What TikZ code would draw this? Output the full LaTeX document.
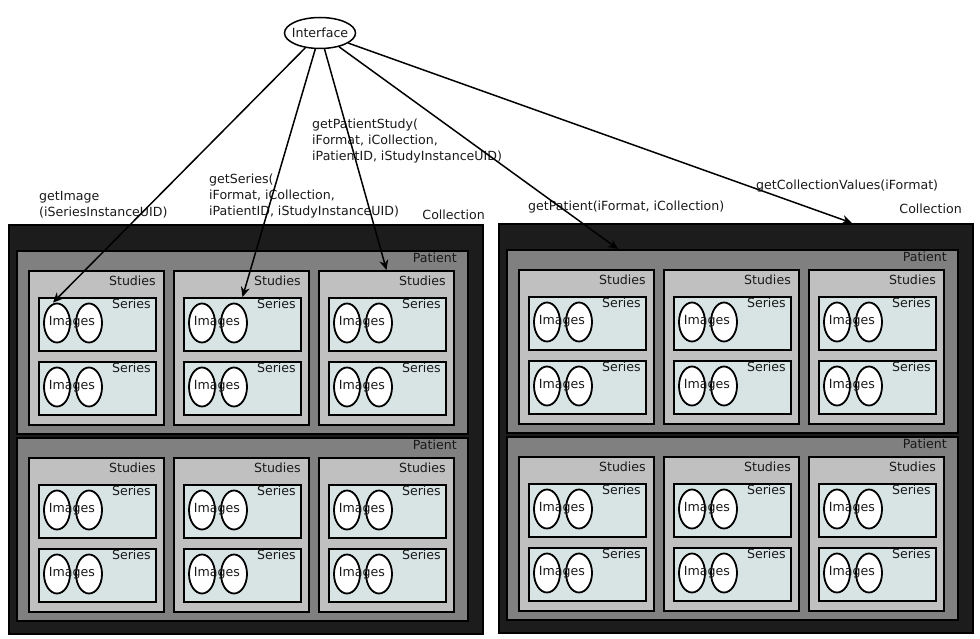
\documentclass[tikz,border=0pt]{standalone}
\usepackage{fontspec}
\setmainfont{DejaVu Sans}
\usetikzlibrary{shapes.geometric,arrows.meta}
\definecolor{collfill}{HTML}{1C1C1C}
\definecolor{patfill}{HTML}{808080}
\definecolor{studfill}{HTML}{C0C0C0}
\definecolor{serfill}{HTML}{D8E4E4}
\tikzset{
  box/.style={draw=black, line width=2pt, rectangle, inner sep=0pt, anchor=north west},
  collbox/.style={box, fill=collfill, minimum width=474pt, minimum height=409pt},
  patbox/.style={box, fill=patfill, minimum width=451pt, minimum height=183pt},
  studbox/.style={box, fill=studfill, minimum width=135pt, minimum height=154pt},
  serbox/.style={box, fill=serfill, minimum width=117pt, minimum height=53pt},
  imgell/.style={ellipse, draw=black, line width=1.8pt, fill=white, inner sep=0pt, minimum width=26pt, minimum height=39pt},
  lbl/.style={inner sep=0pt, font=\fontsize{12.6}{16}\selectfont, text=black!90},
  call/.style={-{Stealth[length=10pt,width=9pt]}, line width=1.5pt},
}
\begin{document}
\begin{tikzpicture}[x=1pt,y=-1pt]
\useasboundingbox (0,0) rectangle (980,639);
\foreach \s/\dx/\dy in {L/0/0,R/490/-1}{
  \node[collbox] (\s-coll) at (8+\dx,224+\dy) {};
  \foreach \p/\py in {1/250,2/437}{
    \node[patbox] (\s-p\p) at (16+\dx,\py+\dy) {};
    \node[lbl, anchor=east] (\s-p\p-lbl) at ([xshift=-12pt,yshift=-8pt]\s-p\p.north east) {Patient};
    \foreach \c/\cx in {1/28,2/173,3/318}{
      \node[studbox] (\s-p\p-st\c) at (\cx+\dx,\py+20+\dy) {};
      \node[lbl, anchor=east] (\s-p\p-st\c-lbl) at ([xshift=-9pt,yshift=-11pt]\s-p\p-st\c.north east) {Studies};
      \foreach \r/\ry in {1/27,2/91}{
        \node[serbox] (\s-p\p-st\c-se\r) at (\cx+10+\dx,\py+20+\ry+\dy) {};
        \node[lbl, anchor=east] (\s-p\p-st\c-se\r-lbl) at ([xshift=-6pt,yshift=-7pt]\s-p\p-st\c-se\r.north east) {Series};
        \node[imgell] (\s-p\p-st\c-se\r-a) at (\cx+29+\dx,\py+20+\ry+26+\dy) {};
        \node[imgell] (\s-p\p-st\c-se\r-b) at (\cx+61+\dx,\py+20+\ry+26+\dy) {};
        \node[lbl] (\s-p\p-st\c-se\r-txt) at (\cx+44+\dx,\py+20+\ry+25+\dy) {Images};
      }
    }
  }
}
\node[lbl, anchor=east] (L-coll-lbl) at (485,215) {Collection};
\node[lbl, anchor=east] (R-coll-lbl) at (962,209) {Collection};

\node[ellipse, draw=black, line width=1.5pt, fill=white, inner sep=0pt, minimum width=71pt, minimum height=31pt] (iface) at (320,33) {};
\node[lbl] (iface-txt) at (iface) {Interface};

\node[lbl, anchor=west, align=left] (t1) at (39,205) {getImage\\(iSeriesInstanceUID)};
\node[lbl, anchor=west, align=left] (t2) at (209,196) {getSeries(\\iFormat, iCollection,\\iPatientID, iStudyInstanceUID)};
\node[lbl, anchor=west, align=left] (t3) at (312,141) {getPatientStudy(\\iFormat, iCollection,\\iPatientID, iStudyInstanceUID)};
\node[lbl, anchor=west] (t4) at (528,207) {getPatient(iFormat, iCollection)};
\node[lbl, anchor=west] (t5) at (756,186) {getCollectionValues(iFormat)};

\coordinate (e4) at ([xshift=112pt]R-p1.north west);
\coordinate (e5) at ([xshift=354pt]R-coll.north west);
\draw[call] (iface) -- ([xshift=-4pt]L-p1-st1-se1-a.north);
\draw[call] (iface) -- (L-p1-st2-se1.north);
\draw[call] (iface) -- (L-p1-st3.north);
\draw[call] (iface) -- (e4);
\draw[call] (iface) -- (e5);
\end{tikzpicture}
\end{document}
